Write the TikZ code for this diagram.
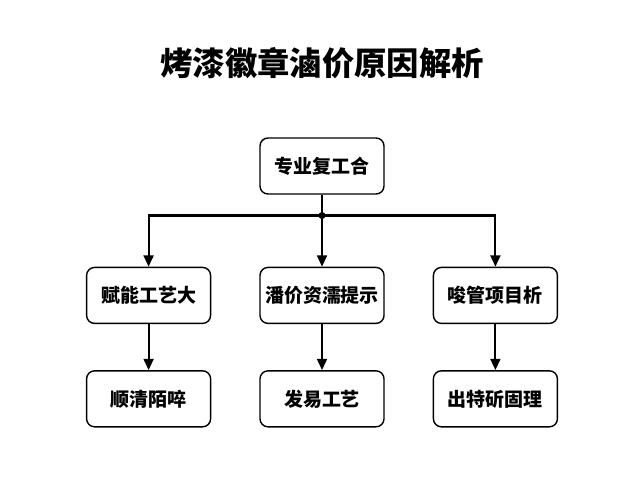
\documentclass[tikz,border=0pt]{standalone}
\usepackage{fontspec}
\newfontfamily\cjk{Noto Sans CJK SC}
\usetikzlibrary{positioning,arrows.meta}

\begin{document}
\begin{tikzpicture}[-{Triangle[length=8pt,width=7pt]}, line width=1.5pt, node distance=1.8cm and 1.2cm,
    box/.style={rectangle, rounded corners=0.2cm, draw, line width=1pt, fill=white,
        minimum width=3.1cm, minimum height=1.4cm, font=\cjk\bfseries\fontsize{13.5}{15}\selectfont}]
    \useasboundingbox (0,0) rectangle (16,-12);

    % Title
    \node[font=\cjk\bfseries\fontsize{23}{27}\selectfont] (title) at (8.05,-1.58) {烤漆徽章滷价原因解析};

    % Define boxes
    \node[box] (top) at (8.05,-4.15) {专业复工合};
    \node[box, below=1.8cm of top] (mid) {潘价资濡提示};
    \node[box, left=1.2cm of mid] (left) {赋能工艺大};
    \node[box, right=1.2cm of mid] (right) {唆管项目析};
    \node[box, below=1.15cm of left] (leftb) {顺清陌啐};
    \node[box, below=1.15cm of mid] (midb) {发易工艺};
    \node[box, below=1.15cm of right] (rightb) {出特斫固理};

    % Branch point
    \coordinate (fork) at ([yshift=-0.52cm]top.south);

    % Connections
    \draw[-] (top) -- (fork);
    \draw (fork) -| (left);
    \draw (fork) -- (mid);
    \draw (fork) -| (right);
    \fill (fork) circle (2.5pt);

    \draw (left) -- (leftb);
    \draw (mid) -- (midb);
    \draw (right) -- (rightb);

    \end{tikzpicture}
\end{document}
